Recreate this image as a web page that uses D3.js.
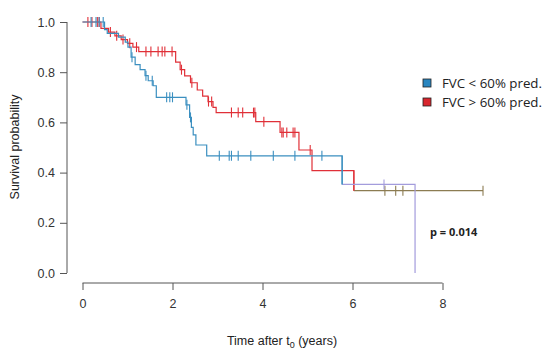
<!DOCTYPE html>
<html>
<head>
<meta charset="utf-8">
<script src="https://cdn.jsdelivr.net/npm/d3@7"></script>
<style>
  body { margin: 0; background: #fff; }
  text { font-family: "Liberation Sans", Arial, sans-serif; }
</style>
</head>
<body>
<div id="chart"></div>
<script>
// Kaplan-Meier steps: [time (years), survival]
var lowSteps = [[0, 1], [0.49, 0.97], [0.55, 0.955], [0.8, 0.94], [0.95, 0.92], [1.01, 0.9], [1.08, 0.86],
  [1.17, 0.83], [1.28, 0.81], [1.39, 0.786], [1.46, 0.766], [1.57, 0.746], [1.64, 0.70], [2.3, 0.67],
  [2.38, 0.62], [2.42, 0.58], [2.46, 0.55], [2.52, 0.51], [2.76, 0.467], [5.77, 0.353], [7.39, 0]];
var lowEnd = 7.39;
var lowCensor = [0.19, 0.3, 0.37, 0.46, 1.1, 1.41, 1.55, 1.87, 1.94, 2.0, 2.32, 2.4,
  3.04, 3.26, 3.31, 3.46, 3.74, 4.24, 4.72, 5.32, 6.7];

var highSteps = [[0, 1], [0.41, 0.975], [0.58, 0.96], [0.72, 0.945], [0.86, 0.93], [1.0, 0.915], [1.12, 0.9],
  [1.25, 0.882], [2.07, 0.84], [2.17, 0.81], [2.27, 0.785], [2.4, 0.758], [2.55, 0.729], [2.67, 0.705],
  [2.79, 0.683], [2.9, 0.66], [2.97, 0.639], [3.85, 0.603], [4.39, 0.56], [4.81, 0.49], [5.1, 0.408],
  [6.03, 0.328]];
var highEnd = 8.9;
var highCensor = [0.12, 0.21, 0.33, 0.37, 0.62, 0.76, 0.9, 1.05, 1.2, 1.41, 1.52, 1.68, 1.77, 1.83, 1.99,
  2.2, 2.43, 2.8, 2.87, 3.31, 3.46, 3.56, 3.8, 3.83, 4.03, 4.43, 4.46, 4.54, 4.68, 4.72, 5.06,
  6.72, 6.96, 7.12, 8.9];

var groups = ["FVC < 60% pred.", "FVC > 60% pred."];
var xTicks = [0, 2, 4, 6, 8];
var yTicks = [0, 0.2, 0.4, 0.6, 0.8, 1.0];
var pText = "p = 0.014";

var W = 550, H = 361;
var svg = d3.select("#chart").append("svg")
  .attr("width", W)
  .attr("height", H);

var x = d3.scaleLinear().domain([0, 8]).range([82.5, 442.5]);
var y = d3.scaleLinear().domain([0, 1]).range([273, 22]);

// R style detached axes
var xAxis = svg.append("g")
  .attr("transform", "translate(0,283)")
  .call(d3.axisBottom(x).tickValues(xTicks).tickFormat(d3.format("d")).tickSizeOuter(0).tickSize(7).tickPadding(9));
var yAxis = svg.append("g")
  .attr("transform", "translate(67,0)")
  .call(d3.axisLeft(y).tickValues(yTicks).tickFormat(d3.format(".1f")).tickSizeOuter(0).tickSize(7).tickPadding(5));
[xAxis, yAxis].forEach(function (a) {
  a.select(".domain").attr("stroke", "#555");
  a.selectAll(".tick line").attr("stroke", "#555");
  a.selectAll(".tick text").attr("fill", "#333").style("font-size", "12.5px")
    .style("font-family", "'Liberation Sans', Arial, sans-serif");
});
xAxis.select(".domain").attr("d", "M" + x(0) + ",0H" + x(8));
yAxis.select(".domain").attr("d", "M0," + y(1) + "V" + y(0));

function survAt(steps, t) {
  var s = steps[0][1];
  steps.forEach(function (p) { if (p[0] <= t) s = p[1]; });
  return s;
}

var line = d3.line()
  .x(function (d) { return x(d[0]); })
  .y(function (d) { return y(d[1]); })
  .curve(d3.curveStepAfter);

function drawCurve(steps, end, censor, color, tailFrom, tailColor) {
  var pts = steps.concat([[end, steps[steps.length - 1][1]]]);
  var head = pts.filter(function (p) { return p[0] <= tailFrom; });
  head.push([tailFrom, survAt(steps, tailFrom - 1e-6)]);
  var tail = pts.filter(function (p) { return p[0] >= tailFrom; });
  svg.append("path").attr("d", line(head)).attr("fill", "none")
    .attr("stroke", color).attr("stroke-width", 1.2);
  svg.append("path").attr("d", line(tail)).attr("fill", "none")
    .attr("stroke", tailColor).attr("stroke-width", 1.2);
  // drop at the tail start
  svg.append("line")
    .attr("x1", x(tailFrom)).attr("x2", x(tailFrom))
    .attr("y1", y(survAt(steps, tailFrom - 1e-6))).attr("y2", y(survAt(steps, tailFrom)))
    .attr("stroke", color).attr("stroke-width", 1.2);
  svg.selectAll(null).data(censor).enter().append("line")
    .attr("x1", function (d) { return x(d); })
    .attr("x2", function (d) { return x(d); })
    .attr("y1", function (d) { return y(survAt(steps, d)) - 5; })
    .attr("y2", function (d) { return y(survAt(steps, d)) + 5; })
    .attr("stroke", function (d) { return d >= tailFrom ? tailColor : color; })
    .attr("stroke-width", 1.1);
}

drawCurve(highSteps, highEnd, highCensor, "#e03038", 6.03, "#8c7c52");
drawCurve(lowSteps, lowEnd, lowCensor, "#3b8fc0", 5.77, "#a39cdc");

// Legend
var legColors = ["#2a86c0", "#d8262e"];
var leg = svg.append("g");
groups.forEach(function (g, i) {
  leg.append("rect")
    .attr("x", 423).attr("y", 79 + i * 19)
    .attr("width", 8).attr("height", 8)
    .attr("fill", legColors[i]).attr("stroke", "#222").attr("stroke-width", 0.8);
  leg.append("text")
    .attr("x", 442).attr("y", 88 + i * 19)
    .attr("fill", "#222")
    .style("font-size", "13.3px")
    .style("font-family", "'Open Sans', sans-serif")
    .text(g);
});

svg.append("text")
  .attr("x", 430).attr("y", 236)
  .attr("fill", "#222")
  .style("font-size", "11px")
  .style("font-weight", "bold")
  .style("font-family", "'Open Sans', sans-serif")
  .text(pText);

// Axis titles
svg.append("text")
  .attr("transform", "translate(19,147)rotate(-90)")
  .attr("text-anchor", "middle")
  .attr("fill", "#222")
  .style("font-size", "12.5px")
  .text("Survival probability");

var xt = svg.append("text")
  .attr("x", 282).attr("y", 345)
  .attr("text-anchor", "middle")
  .attr("fill", "#222")
  .style("font-size", "12.5px");
xt.append("tspan").text("Time after t");
xt.append("tspan").attr("dy", 3).style("font-size", "9px").text("0");
xt.append("tspan").attr("dy", -3).text(" (years)");
</script>
</body>
</html>
